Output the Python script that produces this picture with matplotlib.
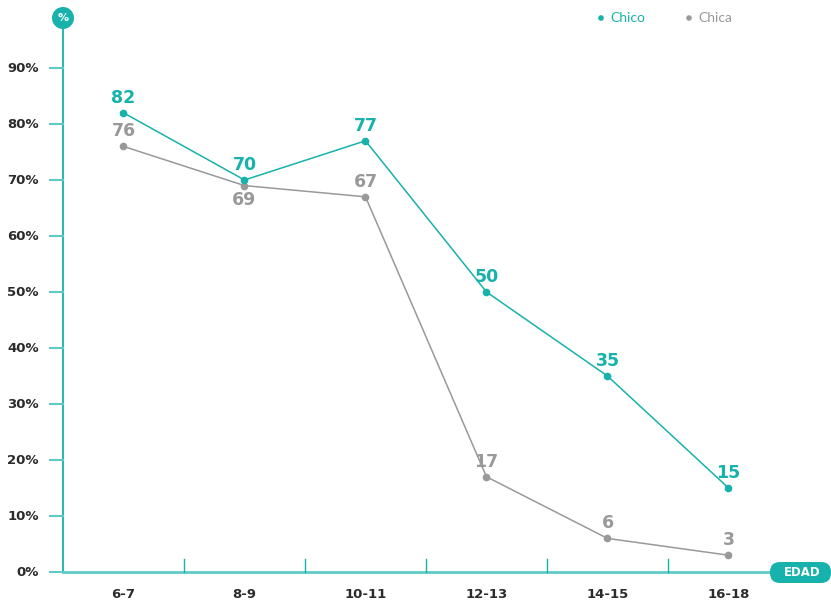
import matplotlib.pyplot as plt
from matplotlib.patches import FancyBboxPatch, Circle

# data
edades = ['6-7', '8-9', '10-11', '12-13', '14-15', '16-18']
chico = [82, 70, 77, 50, 35, 15]
chica = [76, 69, 67, 17, 6, 3]
y_ticks = [0, 10, 20, 30, 40, 50, 60, 70, 80, 90]

teal = '#16b2ab'
teal_light = '#5ecbc6'
grey = '#999999'
dark = '#2b2b2b'

plt.rcParams['font.family'] = ['DejaVu Sans']

W, H = 831, 603
fig = plt.figure(figsize=(W / 100, H / 100), dpi=100)
# axes spans full figure; axis origin placed at pixel (63, 572)
ax = fig.add_axes([0, 0, 1, 1])
px_x = 121.0  # pixels per category
px_y = 5.6    # pixels per percent
ax.set_xlim(-0.5 - 63 / px_x, -0.5 + (W - 63) / px_x)
ax.set_ylim(-(H - 572) / px_y, 572 / px_y)
ax.axis('off')

# overlay in pixel units for badges / legend
pa = fig.add_axes([0, 0, 1, 1], zorder=10)
pa.set_xlim(0, W)
pa.set_ylim(H, 0)
pa.axis('off')

x = list(range(len(edades)))

# axes lines
ax.plot([-0.5, -0.5], [0, (572 - 18) / px_y], color=teal, lw=1.3, zorder=1)
ax.plot([-0.5, 5.5 + 45 / px_x], [0, 0], color=teal_light, lw=2, zorder=1)

# y ticks and labels
for t in y_ticks:
    ax.plot([-0.5 - 13 / px_x, -0.5], [t, t], color=teal_light, lw=1.5, zorder=1)
    ax.text(-0.5 - 24 / px_x, t, f'{t}%', ha='right', va='center',
            fontsize=9.5, fontweight='bold', color=dark)

# x ticks between categories
for i in range(len(edades) - 1):
    ax.plot([i + 0.5, i + 0.5], [0, 13 / px_y], color=teal, lw=1, zorder=1)
for i, lab in enumerate(edades):
    ax.text(i, -22 / px_y, lab, ha='center', va='center',
            fontsize=9.5, fontweight='bold', color=dark)

# series
ax.plot(x, chica, color=grey, lw=1.1, marker='o', ms=4.5, zorder=3)
ax.plot(x, chico, color=teal, lw=1.1, marker='o', ms=4.5, zorder=4)

for i, v in enumerate(chico):
    ax.text(i, v + 15 / px_y, str(v), ha='center', va='center',
            fontsize=12.5, fontweight='bold', color=teal, zorder=5)
for i, v in enumerate(chica):
    off = -14 if i == 1 else 15
    ax.text(i, v + off / px_y, str(v), ha='center', va='center',
            fontsize=12.5, fontweight='bold', color=grey, zorder=5)

# "%" circle badge at top of y axis
pa.add_patch(Circle((63, 18), 11, facecolor=teal, edgecolor='none'))
pa.text(63, 18, '%', ha='center', va='center', color='white',
        fontsize=8, fontweight='bold')

# "EDAD" pill at end of x axis
pa.add_patch(FancyBboxPatch((770, 562), 61, 21,
                            boxstyle='round,pad=0,rounding_size=10',
                            facecolor=teal, edgecolor='none'))
pa.text(802, 572.5, 'EDAD', ha='center', va='center', color='white',
        fontsize=8.5, fontweight='bold')

# legend
for px, lab, col in [(601, 'Chico', teal), (689, 'Chica', grey)]:
    pa.add_patch(Circle((px, 18), 2.8, facecolor=col, edgecolor='none'))
    pa.text(px + 9, 18, lab, ha='left', va='center', color=col,
            fontsize=10, family=['Lato', 'DejaVu Sans'])

fig.savefig('out.png', dpi=100)
